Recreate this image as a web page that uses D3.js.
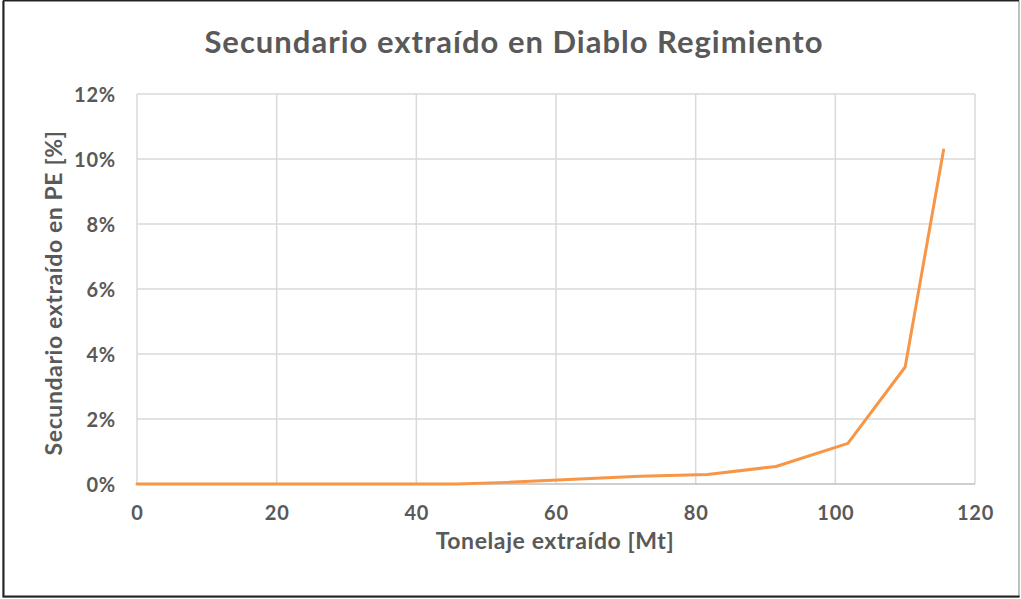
<!DOCTYPE html>
<html>
<head>
<meta charset="utf-8">
<script src="https://cdn.jsdelivr.net/npm/d3@7"></script>
<style>
  html, body { margin: 0; padding: 0; background: #fff; }
  svg { display: block; }
  text { font-family: Lato, "Open Sans", "Noto Sans", sans-serif; font-weight: bold; fill: #595959; }
</style>
</head>
<body>
<svg id="chart" width="1021" height="599"></svg>
<script>
// Tonnage mined [Mt] and cumulative share of secondary ore [%]
const tonelaje = [0, 10, 20, 30, 40, 45.8, 53, 61, 72, 81.7, 91.5, 101.8, 110, 115.5];
const secundario = [0, 0, 0, 0, 0, 0, 0.05, 0.13, 0.24, 0.29, 0.54, 1.25, 3.6, 10.28];
const xTicks = [0, 20, 40, 60, 80, 100, 120];
const yTicks = [0, 2, 4, 6, 8, 10, 12];

const titulo = "Secundario extraído en Diablo Regimiento";
const tituloX = "Tonelaje extraído [Mt]";
const tituloY = "Secundario extraído en PE [%]";

const svg = d3.select("#chart");
const W = 1021, H = 599;
const plot = { left: 137, right: 975, top: 94, bottom: 484 };

// outer frame
svg.append("rect")
  .attr("x", 3).attr("y", 1).attr("width", W - 5).attr("height", H - 3)
  .attr("fill", "#fff").attr("stroke", "#7f7f7f").attr("stroke-width", 1);
svg.append("path")
  .attr("d", `M3.5,1 V596.5 H1019.5`)
  .attr("fill", "none").attr("stroke", "#222").attr("stroke-width", 2);
svg.append("path")
  .attr("d", `M3,0.5 H1019`)
  .attr("fill", "none").attr("stroke", "#222").attr("stroke-width", 1.5);

const x = d3.scaleLinear().domain([0, 120]).range([plot.left, plot.right]);
const y = d3.scaleLinear().domain([0, 12]).range([plot.bottom, plot.top]);

// gridlines
const grid = svg.append("g");
grid.selectAll("line.v").data(xTicks).join("line")
  .attr("x1", d => x(d)).attr("x2", d => x(d))
  .attr("y1", plot.top).attr("y2", plot.bottom)
  .attr("stroke", "#d9d9d9").attr("stroke-width", 1.5);
grid.selectAll("line.h").data(yTicks.filter(d => d > 0)).join("line")
  .attr("x1", plot.left).attr("x2", plot.right)
  .attr("y1", d => y(d)).attr("y2", d => y(d))
  .attr("stroke", "#d9d9d9").attr("stroke-width", 1.5);

// x axis line
svg.append("line")
  .attr("x1", plot.left).attr("x2", plot.right)
  .attr("y1", plot.bottom).attr("y2", plot.bottom)
  .attr("stroke", "#bfbfbf").attr("stroke-width", 1.5);

// x tick labels
const xAxis = d3.axisBottom(x).tickValues(xTicks).tickSize(0).tickPadding(0).tickFormat(d3.format("d"));
const gx = svg.append("g").attr("transform", `translate(0,${plot.bottom})`).call(xAxis);
gx.select(".domain").remove();
gx.selectAll("text").attr("y", 36).attr("dy", 0)
  .style("font-size", "20px").style("letter-spacing", "0.8px").attr("fill", "#595959");

// y tick labels
const yAxis = d3.axisLeft(y).tickValues(yTicks).tickSize(0).tickPadding(0).tickFormat(d => d + "%");
const gy = svg.append("g").attr("transform", `translate(${plot.left},0)`).call(yAxis);
gy.select(".domain").remove();
gy.selectAll("text").attr("x", -21).attr("dy", "0.36em")
  .style("font-size", "20px").style("letter-spacing", "0.8px").attr("fill", "#595959");

// series
const line = d3.line().x((d, i) => x(tonelaje[i])).y(d => y(d));
svg.append("path")
  .datum(secundario)
  .attr("d", line)
  .attr("fill", "none")
  .attr("stroke", "#f79646")
  .attr("stroke-width", 3)
  .attr("stroke-linejoin", "round")
  .attr("stroke-linecap", "round");

// titles
svg.append("text")
  .attr("x", 514).attr("y", 53)
  .attr("text-anchor", "middle")
  .style("font-size", "31px")
  .style("letter-spacing", "1px")
  .text(titulo);

svg.append("text")
  .attr("x", 555).attr("y", 549)
  .attr("text-anchor", "middle")
  .style("font-size", "23px")
  .style("letter-spacing", "0.6px")
  .text(tituloX);

svg.append("text")
  .attr("transform", "translate(62,293) rotate(-90)")
  .attr("text-anchor", "middle")
  .style("font-size", "23px")
  .style("letter-spacing", "0.6px")
  .text(tituloY);
</script>
</body>
</html>
